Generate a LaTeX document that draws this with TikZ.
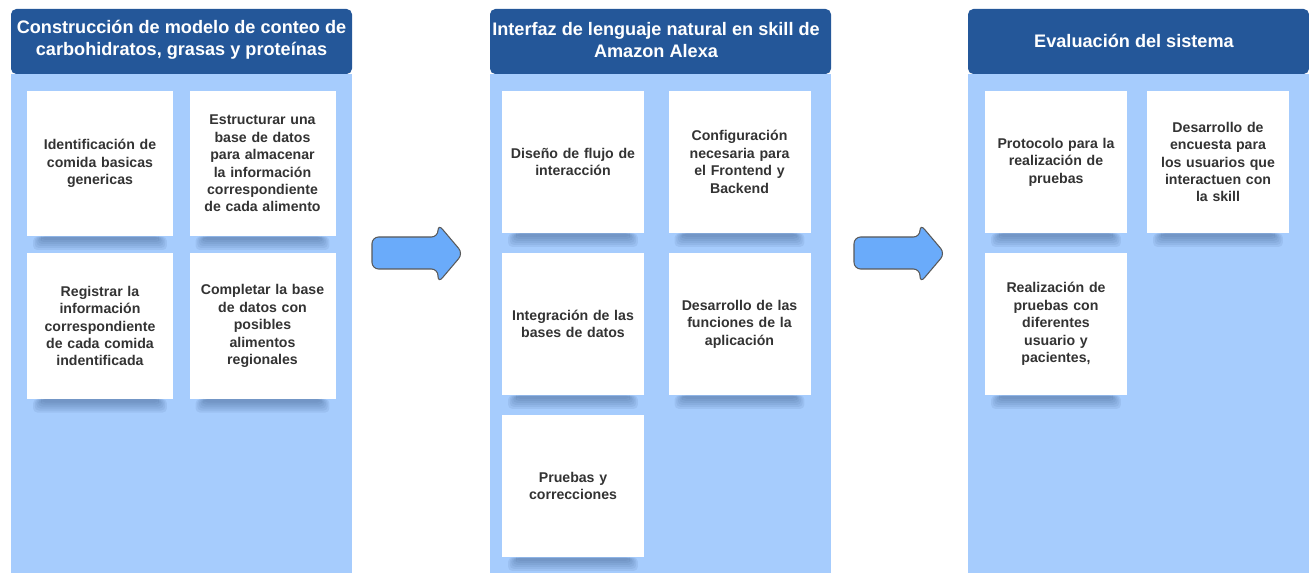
\documentclass[tikz,border=0pt]{standalone}
\usepackage{fontspec}
\setmainfont{Liberation Sans}

\definecolor{hdrblue}{HTML}{245799}
\definecolor{bodyblue}{HTML}{A6CCFD}
\definecolor{arrowblue}{HTML}{6AABFA}
\definecolor{txtgray}{HTML}{333333}
\definecolor{shadowblue}{HTML}{3F5F8F}

\tikzset{every picture/.style={line width=0.75pt}}
\tikzset{
  card/.style={fill=white, inner sep=0pt, align=center, text width=100pt,
    minimum width=109.5pt, minimum height=109pt, text=txtgray,
    font=\fontsize{10.6}{13.1}\selectfont\bfseries},
  cardn/.style={card, minimum width=106.5pt, minimum height=106.5pt},
  hdrtext/.style={text=white, align=center, font=\fontsize{13.6}{16.5}\selectfont\bfseries},
  arrowshape/.style={fill=arrowblue, draw=black!65, line width=0.8pt, rounded corners=5}
}

\begin{document}
\begin{tikzpicture}[x=0.75pt,y=0.75pt,yscale=-1,xscale=1]
	\path[use as bounding box] (0,0) rectangle (1309,573);
	%Shape: Column 1
	\fill [bodyblue] (11,74) rectangle (352,573);
	\fill [hdrblue, rounded corners=4] (11,74) -- (11,9) -- (352,9) -- (352,74) -- cycle;
	\node [hdrtext] (h1) at (181.5,40) {Construcción de modelo de conteo de\\carbohidratos, grasas y proteínas};
	%Shape: Column 2
	\fill [bodyblue] (490,74) rectangle (831,573);
	\fill [hdrblue, rounded corners=4] (490,74) -- (490,9) -- (831,9) -- (831,74) -- cycle;
	\node [hdrtext] (h2) at (656,40) {Interfaz de lenguaje natural en skill de\\Amazon Alexa};
	%Shape: Column 3
	\fill [bodyblue] (968,74) rectangle (1309,573);
	\fill [hdrblue, rounded corners=4] (968,74) -- (968,9) -- (1309,9) -- (1309,74) -- cycle;
	\node [hdrtext] (h3) at (1134,41) {Evaluación del sistema};
	% Cards column 1
	\node [card] (c11) at (100,163.5) {Identificación de\\comida basicas\\genericas};
	\node [card] (c12) at (262.5,163.5) {Estructurar una\\base de datos\\para almacenar\\la información\\correspondiente\\de cada alimento};
	\node [card] (c13) at (100,326) {Registrar la\\información\\correspondiente\\de cada comida\\indentificada};
	\node [card] (c14) at (262.5,326) {Completar la base\\de datos con\\posibles\\alimentos\\regionales};
	% Cards column 2
	\node [cardn] (c21) at (573,162) {Diseño de flujo de\\interacción};
	\node [cardn] (c22) at (739.5,162) {Configuración\\necesaria para\\el Frontend y\\Backend};
	\node [cardn] (c23) at (573,324) {Integración de las\\bases de datos};
	\node [cardn] (c24) at (739.5,324) {Desarrollo de las\\funciones de la\\aplicación};
	\node [cardn] (c25) at (573,486) {Pruebas y\\correcciones};
	% Cards column 3
	\node [cardn] (c31) at (1056,162) {Protocolo para la\\realización de\\pruebas};
	\node [cardn] (c32) at (1218,162) {Desarrollo de\\encuesta para\\los usuarios que\\interactuen con\\la skill};
	\node [cardn] (c33) at (1056,324) {Realización de\\pruebas con\\diferentes\\usuario y\\pacientes,};
	% soft shadows under the cards
	\foreach \c in {c11,c12,c13,c14,c21,c22,c23,c24,c25,c31,c32,c33}
	  \foreach \i in {0,...,5}
	    \fill [shadowblue, opacity=0.1, rounded corners=3pt] ([xshift={5pt+\i*1.2pt}]\c.south west) rectangle ([xshift={-5pt-\i*1.2pt}, yshift={10pt-\i*1.5pt}]\c.south east);
	%Shape: Right Arrow 1
	\draw [arrowshape] (372,237) -- (438,237) -- (438,224) -- (463,253.5) -- (438,283) -- (438,269) -- (372,269) -- cycle;
	%Shape: Right Arrow 2
	\draw [arrowshape] (854,237) -- (920,237) -- (920,224) -- (945,253.5) -- (920,283) -- (920,269) -- (854,269) -- cycle;
\end{tikzpicture}
\end{document}
